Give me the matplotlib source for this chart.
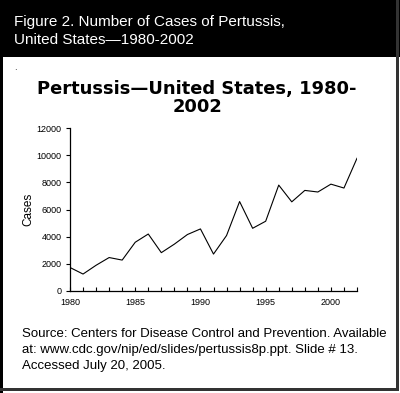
import matplotlib
matplotlib.use("Agg")
import matplotlib.pyplot as plt
from matplotlib.patches import Rectangle

years = list(range(1980, 2003))
cases = [1730, 1248, 1895, 2463, 2276, 3589, 4195, 2823, 3450, 4157,
         4570, 2719, 4083, 6586, 4617, 5137, 7796, 6564, 7405, 7288,
         7867, 7580, 9771]
xtick_labels = [1980, 1985, 1990, 1995, 2000]
ytick_values = [0, 2000, 4000, 6000, 8000, 10000, 12000]

W, H = 400, 393
fig = plt.figure(figsize=(W / 100, H / 100), dpi=100)
fig.patch.set_facecolor("white")

def px_rect(x0, y0, x1, y1, color):
    fig.patches.append(Rectangle((x0 / W, 1 - y1 / H), (x1 - x0) / W, (y1 - y0) / H,
                                 transform=fig.transFigure, facecolor=color,
                                 edgecolor="none", zorder=0))

# header band and borders
px_rect(0, 0, 400, 57, "black")
px_rect(0, 0, 2.5, 393, "black")
px_rect(396, 0, 399, 391, "#333333")
px_rect(0, 388, 399, 391, "#333333")

fig.text(14 / W, 1 - 22 / H, "Figure 2. Number of Cases of Pertussis,",
         color="white", fontsize=11, family="Liberation Sans", va="center", ha="left")
fig.text(14 / W, 1 - 40 / H, "United States\u20141980-2002",
         color="white", fontsize=11, family="Liberation Sans", va="center", ha="left")

fig.text(15 / W, 1 - 68 / H, ".", color="black", fontsize=6, ha="center", va="center")

fig.text(197 / W, 1 - 98 / H, "Pertussis\u2014United States, 1980-\n2002",
         fontsize=12.9, fontweight="heavy", family="DejaVu Sans", ha="center",
         va="center", multialignment="center", linespacing=0.95)

ax = fig.add_axes([70 / W, 1 - 291 / H, (357 - 70) / W, (291 - 128) / H])
ax.plot(years, cases, color="black", lw=0.8)
ax.set_xlim(1980, 2002)
ax.set_ylim(0, 12000)
for s in ["top", "right"]:
    ax.spines[s].set_visible(False)
for s in ["left", "bottom"]:
    ax.spines[s].set_linewidth(0.9)
ax.set_xticks(xtick_labels)
ax.set_xticklabels([str(v) for v in xtick_labels], fontsize=6.5, family="Liberation Sans")
ax.set_xticks(years, minor=True)
ax.tick_params(axis="x", which="both", direction="in", length=3, width=0.8, pad=5)
ax.set_yticks(ytick_values)
ax.set_yticklabels([str(v) for v in ytick_values], fontsize=6.5, family="Liberation Sans")
ax.tick_params(axis="y", direction="out", length=3, width=0.8, pad=3)
ax.set_ylabel("Cases", fontsize=8.5, family="Liberation Sans", labelpad=2)

src = ["Source: Centers for Disease Control and Prevention. Available",
       "at: www.cdc.gov/nip/ed/slides/pertussis8p.ppt. Slide # 13.",
       "Accessed July 20, 2005."]
for i, line in enumerate(src):
    fig.text(22 / W, 1 - (334 + 16 * i) / H, line, fontsize=9.5,
             family="Liberation Sans", ha="left", va="center")

fig.savefig("out.png", dpi=100, facecolor="white")
